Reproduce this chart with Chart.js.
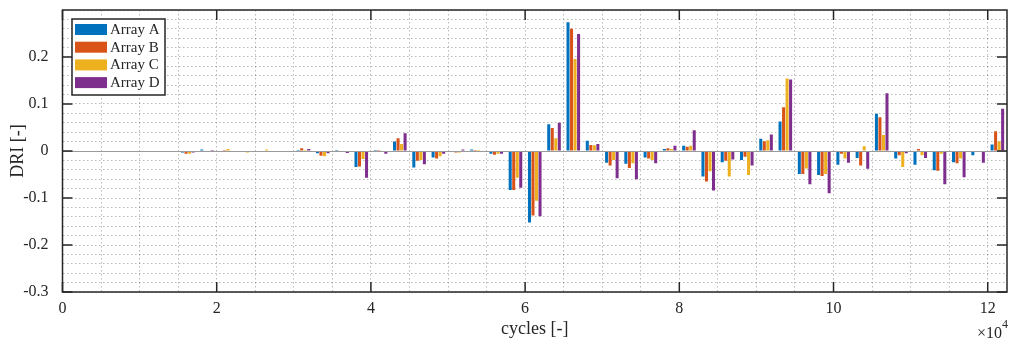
<!DOCTYPE html>
<html><head><meta charset="utf-8">
<script src="https://cdn.jsdelivr.net/npm/chart.js@4.4.1/dist/chart.umd.min.js"></script>
<style>html,body{margin:0;padding:0;background:#fff;}#wrap{width:1012px;height:340px;}</style>
</head><body><div id="wrap"><canvas id="c" width="1012" height="340"></canvas></div>
<script>
const cycles = [1250,3750,6250,8750,11250,13750,16250,18750,21250,23750,26250,28750,31250,33750,36250,38750,41250,43750,46250,48750,51250,53750,56250,58750,61250,63750,66250,68750,71250,73750,76250,78750,81250,83750,86250,88750,91250,93750,96250,98750,101250,103750,106250,108750,111250,113750,116250,118750,121250];
const seriesNames = ['Array A','Array B','Array C','Array D'];
const arrayA = [0,0,0,0,0,0,-0.003,0.003,0,0,0.001,0,0.002,-0.005,0.002,-0.034,0.002,0.020,-0.035,-0.014,0,0.003,-0.006,-0.083,-0.152,0.057,0.274,0.022,-0.025,-0.027,-0.014,0.004,0.011,-0.054,-0.024,-0.019,0.026,0.063,-0.049,-0.051,-0.029,-0.015,0.079,-0.016,-0.029,-0.041,-0.024,-0.009,0.014];
const arrayB = [0,0,0,0,0,0,-0.006,0,0.002,0,0,-0.002,0.006,-0.010,0,-0.033,0.002,0.027,-0.021,-0.016,-0.003,0.002,-0.008,-0.083,-0.137,0.049,0.260,0.013,-0.031,-0.036,-0.016,0.006,0.009,-0.065,-0.021,-0.012,0.021,0.093,-0.049,-0.053,-0.006,-0.031,0.072,-0.009,0.004,-0.042,-0.026,-0.001,0.042];
const arrayC = [0,0,0,0,0,0,-0.006,0,0.004,-0.003,0.003,0,0.002,-0.011,0.001,-0.017,0,0.015,-0.019,-0.011,-0.003,0.002,-0.006,-0.057,-0.106,0.027,0.196,0.012,-0.019,-0.026,-0.019,0.004,0.011,-0.043,-0.054,-0.051,0.023,0.154,-0.037,-0.049,-0.016,0.010,0.034,-0.034,-0.009,-0.006,-0.016,-0.001,0.021];
const arrayD = [0,0,0,0,0,0,-0.003,0.002,0,0,0,-0.002,0.004,-0.005,-0.004,-0.057,-0.006,0.038,-0.028,-0.006,0.003,0,-0.006,-0.078,-0.139,0.060,0.249,0.015,-0.058,-0.060,-0.026,0.011,0.044,-0.084,-0.018,-0.031,0.035,0.152,-0.071,-0.090,-0.025,-0.038,0.123,-0.005,-0.015,-0.071,-0.056,-0.025,0.090];
const xMajorTicks = [0,20000,40000,60000,80000,100000,120000];
const xTickLabels = ['0','2','4','6','8','10','12'];
const yMajorTicks = [-0.3,-0.2,-0.1,0,0.1,0.2];
const yTickLabels = ['-0.3','-0.2','-0.1','0','0.1','0.2'];
const xMinorStep = 5000;
const yMinorStep = 0.02;

const colors = ['#0072BD','#D95319','#EDB120','#7E2F8E'];
const allSeries = [arrayA,arrayB,arrayC,arrayD];
const FONT = "'Liberation Serif','Times New Roman',serif";
const TXT = '#262626';

const datasets = allSeries.map((arr,i)=>({
  label: seriesNames[i],
  data: cycles.map((c,j)=>({x:c,y:arr[j]})),
  backgroundColor: colors[i],
  borderWidth: 0,
  categoryPercentage: 0.73,
  barPercentage: 0.86
}));

function near(a,b){return Math.abs(a-b)<1e-7;}

function buildTicks(min,max,step){
  const out=[]; const n=Math.round((max-min)/step);
  for(let i=0;i<=n;i++){ out.push({value: Math.round((min+i*step)*1e6)/1e6}); }
  return out;
}

const frame = {
  id:'frame',
  afterDatasetsDraw(chart){
    const {ctx, chartArea:a, scales:{x,y}} = chart;
    ctx.save();
    const y0 = Math.round(y.getPixelForValue(0))+0.5;
    ctx.strokeStyle='#9a9a9a'; ctx.lineWidth=1;
    ctx.beginPath(); ctx.moveTo(a.left,y0); ctx.lineTo(a.right,y0); ctx.stroke();
    ctx.strokeStyle=TXT; ctx.lineWidth=1.5;
    ctx.beginPath();
    xMajorTicks.forEach(v=>{const p=x.getPixelForValue(v); ctx.moveTo(p,a.bottom); ctx.lineTo(p,a.bottom-10); ctx.moveTo(p,a.top); ctx.lineTo(p,a.top+10);});
    yMajorTicks.forEach(v=>{const p=y.getPixelForValue(v); ctx.moveTo(a.left,p); ctx.lineTo(a.left+10,p); ctx.moveTo(a.right,p); ctx.lineTo(a.right-10,p);});
    ctx.stroke();
    ctx.strokeRect(a.left,a.top,a.right-a.left,a.bottom-a.top);
    ctx.restore();
  },
  afterDraw(chart){
    const {ctx, chartArea:a} = chart;
    ctx.save();
    const lx=a.left+9.5, ly=a.top+9, lw=93, lh=76;
    ctx.fillStyle='#fff'; ctx.fillRect(lx,ly,lw,lh);
    ctx.strokeStyle=TXT; ctx.lineWidth=1.5; ctx.strokeRect(lx,ly,lw,lh);
    chart.data.datasets.forEach((ds,i)=>{
      const cy = ly+10.5+i*17.7;
      ctx.fillStyle=ds.backgroundColor;
      ctx.fillRect(lx+3,cy-5.5,32,11);
      ctx.fillStyle=TXT; ctx.font="15px "+FONT; ctx.textBaseline='middle'; ctx.textAlign='left';
      ctx.fillText(ds.label,lx+38,cy+0.5);
    });
    ctx.fillStyle=TXT; ctx.textBaseline='alphabetic';
    ctx.font="16px "+FONT; ctx.textAlign='right';
    ctx.fillText('\u00d710',1002,338);
    ctx.font="12px "+FONT; ctx.textAlign='left';
    ctx.fillText('4',1002,328);
    ctx.restore();
  }
};

new Chart(document.getElementById('c'),{
  type:'bar',
  data:{datasets},
  options:{
    responsive:false, animation:false, devicePixelRatio:1,
    layout:{padding:{top:10,right:5,left:0,bottom:0}},
    plugins:{legend:{display:false},tooltip:{enabled:false}},
    scales:{
      x:{type:'linear',min:0,max:122500,offset:false,
        grid:{color:'rgba(0,0,0,0.28)',lineWidth:1,drawTicks:false,offset:false},
        border:{display:false,dash:[1.5,2.5]},
        ticks:{autoSkip:false,maxRotation:0,minRotation:0,padding:7,color:TXT,font:{family:FONT,size:16}},
        title:{display:true,text:'cycles [-]',color:TXT,font:{family:FONT,size:18},padding:{top:0,bottom:0}},
        afterBuildTicks:(s)=>{s.ticks=buildTicks(0,120000,xMinorStep);},
        afterTickToLabelConversion:(s)=>{s.ticks.forEach(t=>{const i=xMajorTicks.findIndex(m=>near(m,t.value)); t.label=i>=0?xTickLabels[i]:'';});},
        afterFit:(s)=>{s.height=48;s.paddingLeft=0;s.paddingRight=0;}
      },
      y:{type:'linear',min:-0.3,max:0.3,
        grid:{color:'rgba(0,0,0,0.28)',lineWidth:1,drawTicks:false},
        border:{display:false,dash:[1.5,2.5]},
        ticks:{autoSkip:false,padding:14,color:TXT,font:{family:FONT,size:16}},
        title:{display:true,text:'DRI [-]',color:TXT,font:{family:FONT,size:18},padding:{top:7,bottom:0}},
        afterBuildTicks:(s)=>{s.ticks=buildTicks(-0.3,0.3,yMinorStep);},
        afterTickToLabelConversion:(s)=>{s.ticks.forEach(t=>{const i=yMajorTicks.findIndex(m=>near(m,t.value)); t.label=i>=0?yTickLabels[i]:'';});},
        afterFit:(s)=>{s.width=62.5;s.paddingTop=0;s.paddingBottom=0;}
      }
    }
  },
  plugins:[frame]
});
</script></body></html>
